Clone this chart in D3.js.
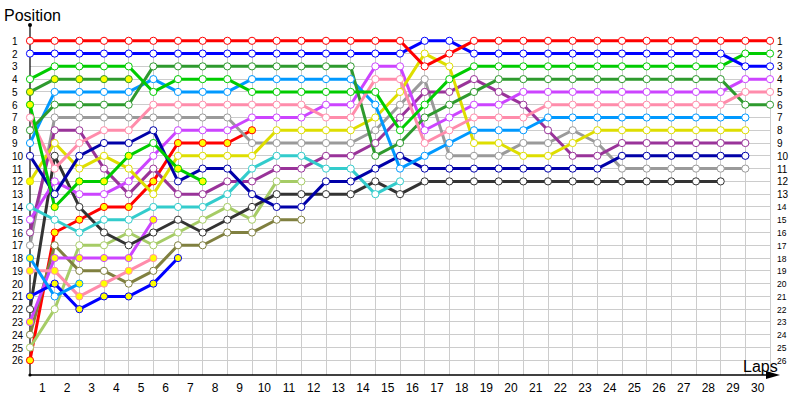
<!DOCTYPE html>
<html><head><meta charset="utf-8">
<script src="https://cdn.jsdelivr.net/npm/d3@7"></script>
<style>
body{margin:0;background:#fff;}
svg{display:block;}
text{font-family:"Liberation Sans",Arial,sans-serif;fill:#000;}
</style></head>
<body><svg id="c" width="800" height="400"></svg>
<script>
const laps = d3.range(0, 31);
const lapLabels = d3.range(1, 31);
const positions = d3.range(1, 27);

// positions per lap (index = lap number, starting at lap 0)
const red1    = [1,1,1,1,1,1,1,1,1,1,1,1,1,1,1,1,3,2,1,1,1,1,1,1,1,1,1,1,1,1,1];
const blue1   = [2,2,2,2,2,2,2,2,2,2,2,2,2,2,2,2,1,1,2,2,2,2,2,2,2,2,2,2,2,3,3];
const green1  = [4,3,3,3,3,5,4,4,4,5,5,5,5,5,5,8,6,4,3,3,3,3,3,3,3,3,3,3,3,2,2];
const dkgreen1= [5,4,4,4,4];
const green2  = [6,14,12,12,10,9,11,12];
const pink1   = [7,11,9,8,8,6,6,6,6,6,6,6,7,7,4,4,9,8,7,7,7,6,6,6,6,6,6,6,6,5,5];
const dkgreen2= [8,6,6,6,6,3,3,3,3,3,3,3,3,3,10,9,7,6,5,4,4,4,4,4,4,4,4,4,4,6,6];
const ltblue1 = [9,5,5,5,5,4,5,5,5,4,4,4,4,4,6,11,10,9,8,8,8,7,7,7,7,7,7,7,7,7];
const navy1   = [10,13,10,9,9,8,12,11,11,13,14,14,12,12,11,10,11,11,11,11,11,11,11,11,10,10,10,10,10,10];
const yellow1 = [12,9,11,10,11,13,10,10,10,10,8,8,8,8,7,5,2,3,9,9,10,10,9,8,8,8,8,8,8,8];
const cyan1   = [14,15,16,15,15,14,14,14,13,11,10,10,11,11,13,12];
const violet1 = [15,12,13,13,12,10,8,8,8,7,7,7,6,6,3,3,8,7,6,6,5,5,5,5,5,5,5,5,5,4,4];
const purple1 = [16,8,8,11,13,11,13,13,12,12,11,11,10,10,9,7,5,5,4,5,6,8,10,10,9,9,9,9,9,9];
const gray1   = [17,7,7,7,7,7,7,7,7,9,9,9,9,9,8,6,4,10,10,10,9,9,8,9,11,11,11,11,11,11];
const ltblue2 = [18,21,20];
const pink2   = [19,19,21,20,19,18];
const blue2   = [21,20,22,21,21,20,18];
const black1  = [22,10,14,16,17,16,15,16,15,14,13,13,13,13,12,13,12,12,12,12,12,12,12,12,12,12,12,12,12];
const violet2 = [23,18,18,18,18,15];
const olive1  = [24,17,19,19,20,19,17,17,16,16,15,15];
const ltgreen1= [25,22,17,17,16,17,16,15,14,15,12,12];
const red2    = [26,16,15,14,14,12,9,9,9,8];

// laps whose marker is filled yellow
const red2Yellow    = [0,1,2,3,4,5,6,7,8,9];
const dkgreen1Yellow= [0,1,2,3,4];
const green2Yellow  = [0,1,2,3,4,6,7];
const yellow1Yellow = [0];
const ltblue2Yellow = [0,2];
const pink2Yellow   = [0,1,2,3,4,5];
const blue2Yellow   = [0,1,2,3,4,5,6];
const violet2Yellow = [0,1,2,3,4,5];

const C = {red:"#ff0000", blue:"#0000ff", green:"#00cc00", dkgreen:"#2e9a2e", pink:"#ff8cab",
  ltblue:"#0099ff", navy:"#0000a8", yellow:"#dede00", cyan:"#33cccc", violet:"#cc44ff",
  purple:"#993399", gray:"#9a9a9a", black:"#333333", olive:"#808040", ltgreen:"#a6cc66"};

const series = [
  {v:red1, c:C.red, y:[]}, {v:blue1, c:C.blue, y:[]}, {v:green1, c:C.green, y:[]},
  {v:dkgreen1, c:C.dkgreen, y:dkgreen1Yellow}, {v:green2, c:C.green, y:green2Yellow},
  {v:pink1, c:C.pink, y:[]}, {v:dkgreen2, c:C.dkgreen, y:[]}, {v:ltblue1, c:C.ltblue, y:[]},
  {v:navy1, c:C.navy, y:[]}, {v:yellow1, c:C.yellow, y:yellow1Yellow}, {v:cyan1, c:C.cyan, y:[]},
  {v:violet1, c:C.violet, y:[]}, {v:purple1, c:C.purple, y:[]}, {v:gray1, c:C.gray, y:[]},
  {v:ltblue2, c:C.ltblue, y:ltblue2Yellow}, {v:pink2, c:C.pink, y:pink2Yellow},
  {v:blue2, c:C.blue, y:blue2Yellow}, {v:black1, c:C.black, y:[]},
  {v:violet2, c:C.violet, y:violet2Yellow}, {v:olive1, c:C.olive, y:[]},
  {v:ltgreen1, c:C.ltgreen, y:[]}, {v:red2, c:C.red, y:red2Yellow}
];

const svg = d3.select("#c");
const x = d3.scaleLinear().domain([0,30]).range([30,770]);
const y = d3.scaleLinear().domain([1,26]).range([40.8,360.3]);
const xb = d3.scaleBand().domain(lapLabels).range([30,770]);

// grid
const g = svg.append("g");
g.selectAll("line.h").data(positions).join("line")
  .attr("x1", x(0)).attr("x2", x(30)).attr("y1", d=>y(d)).attr("y2", d=>y(d))
  .attr("stroke","#cccccc").attr("stroke-width",1).attr("shape-rendering","crispEdges");
g.selectAll("line.v").data(laps.slice(1)).join("line")
  .attr("x1", d=>x(d)).attr("x2", d=>x(d)).attr("y1", y(1)).attr("y2", 375)
  .attr("stroke","#cccccc").attr("stroke-width",1).attr("shape-rendering","crispEdges");

// axes lines
svg.append("line").attr("x1",30).attr("x2",30).attr("y1",25).attr("y2",375)
  .attr("stroke","#000").attr("stroke-width",1.2);
svg.append("line").attr("x1",30).attr("x2",770).attr("y1",375).attr("y2",375)
  .attr("stroke","#000").attr("stroke-width",1.5);
svg.append("path").attr("d","M766,371 L780,375 L766,379 Z").attr("fill","#000");
svg.append("circle").attr("cx",30).attr("cy",25).attr("r",2).attr("fill","#000");
svg.append("circle").attr("cx",30).attr("cy",375).attr("r",1.6).attr("fill","#000");

// bottom axis labels
const ax = svg.append("g").attr("transform","translate(0,381)")
  .call(d3.axisBottom(xb).tickSize(0).tickPadding(2));
ax.select(".domain").remove();
ax.selectAll("text").attr("font-family","Liberation Sans, Arial, sans-serif").attr("font-size",12).attr("fill","#000");

// left axis labels
const ay = svg.append("g").attr("transform","translate(12,0)")
  .call(d3.axisLeft(y).tickValues(positions).tickSize(0).tickFormat(d3.format("d")));
ay.select(".domain").remove();
ay.selectAll("text").attr("text-anchor","start").attr("x",0).attr("dy","0.35em")
  .attr("font-family","Liberation Sans, Arial, sans-serif").attr("font-size",10).attr("fill","#000");

// right axis labels
const ar = svg.append("g").attr("transform","translate(777,0)")
  .call(d3.axisRight(y).tickValues(positions).tickSize(0).tickPadding(0).tickFormat(d3.format("d")));
ar.select(".domain").remove();
ar.selectAll("text").attr("dy","0.35em")
  .attr("font-family","Liberation Sans, Arial, sans-serif")
  .attr("font-size", d => d <= 13 ? 10 : 8.5).attr("fill","#000");

// titles
svg.append("text").attr("x",4).attr("y",21).attr("font-size",16).text("Position");
svg.append("text").attr("x",743).attr("y",372).attr("font-size",16).text("Laps");

// lines
const line = d3.line().x((d,i)=>x(i)).y(d=>y(d));
const lg = svg.append("g");
series.slice().reverse().forEach(s=>{
  lg.append("path").attr("d", line(s.v)).attr("fill","none")
    .attr("stroke", s.c).attr("stroke-width",3).attr("stroke-linejoin","round");
});
const cg = svg.append("g");
series.slice().reverse().forEach(s=>{
  cg.selectAll(null).data(s.v.map((p,i)=>({p,i}))).join("circle")
    .attr("cx", d=>x(d.i)).attr("cy", d=>y(d.p)).attr("r",3.6)
    .attr("fill", d=> s.y.includes(d.i) ? "#ffff00" : "#ffffff")
    .attr("stroke", s.c).attr("stroke-width",1);
});
</script></body></html>
